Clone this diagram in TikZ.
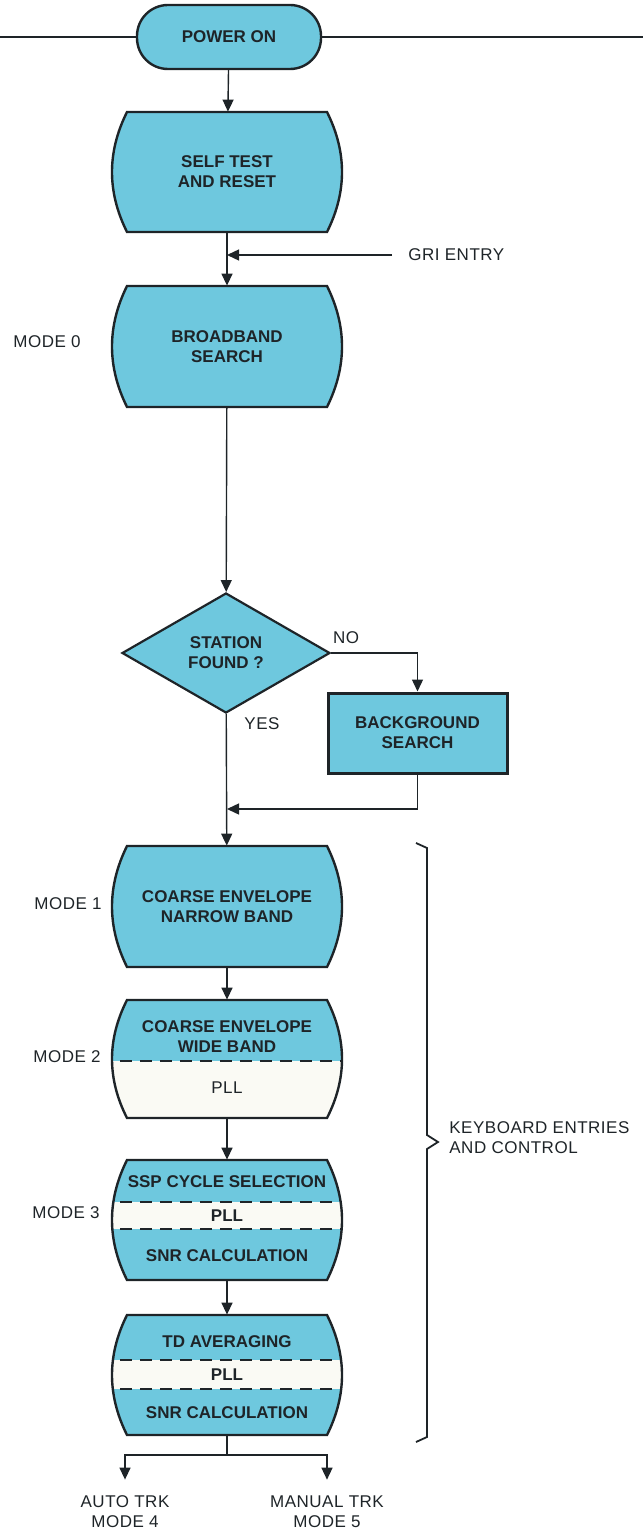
\documentclass[tikz,border=0pt]{standalone}
\usepackage{fontspec}
\setmainfont{Liberation Sans}
\newfontfamily\widefont[LetterSpace=3]{Liberation Sans}
\usetikzlibrary{arrows.meta,shapes.geometric}

\definecolor{boxblue}{RGB}{110,200,222}
\definecolor{bandwhite}{RGB}{250,250,244}
\definecolor{ink}{RGB}{30,36,40}

% barrel outline between a top and a bottom y
\newcommand{\barrelpath}[2]{(127,#1) -- (327,#1)
  .. controls (347,{#1+(#2-#1)/3}) and (347,{#2-(#2-#1)/3}) .. (327,#2)
  -- (127,#2)
  .. controls (107,{#2-(#2-#1)/3}) and (107,{#1+(#2-#1)/3}) .. (127,#1) -- cycle}

\tikzset{
  flow/.style={draw=ink, line width=0.7pt, -{Triangle[width=5.5pt,length=6pt]}},
  wire/.style={draw=ink, line width=0.7pt},
  outline/.style={draw=ink, line width=1.2pt},
  sep/.style={draw=ink, line width=0.9pt, dash pattern=on 6pt off 4pt},
  boxtext/.style={font=\bfseries\fontsize{8.5}{10}\selectfont, align=center, text=ink, inner sep=0pt},
  sidetext/.style={font=\widefont\fontsize{8.5}{10}\selectfont, align=center, text=ink, inner sep=0pt},
  frame/.style={minimum width=115pt, inner sep=0pt, boxtext},
}

\begin{document}
\begin{tikzpicture}[x=0.5pt,y=-0.5pt]
  \useasboundingbox (0,0) rectangle (643,1530);

  % power on and supply line
  \node[draw=ink, line width=1.2pt, fill=boxblue, rounded corners=15.5pt,
        minimum width=92pt, minimum height=32pt, boxtext] (pwr) at (229,37) {POWER ON};
  \coordinate (busL) at (0,37);
  \coordinate (busR) at (643,37);
  \draw[wire] (busL) -- (pwr.west);
  \draw[wire] (pwr.east) -- (busR);

  % self test
  \filldraw[outline, fill=boxblue] \barrelpath{112}{232};
  \node[frame, minimum height=60pt] (self) at (227,172) {SELF TEST\\AND RESET};

  % gri entry
  \node[sidetext, anchor=west] (gri) at (408,255) {GRI ENTRY};
  \coordinate (grijoin) at (227,255);

  % mode 0
  \filldraw[outline, fill=boxblue] \barrelpath{286}{407};
  \node[frame, minimum height=60.5pt] (bband) at (227,346.5) {BROADBAND\\SEARCH};
  \node[sidetext] (mode0) at (47,342) {MODE 0};

  % station test
  \node[draw=ink, line width=1.1pt, fill=boxblue, diamond, minimum width=104pt,
        minimum height=60pt, boxtext] (found) at (226,653) {STATION\\FOUND ?};
  \node[draw=ink, line width=1.5pt, fill=boxblue, minimum width=89.5pt,
        minimum height=40pt, boxtext] (bgsearch) at (417.5,733) {BACKGROUND\\SEARCH};
  \node[sidetext] (no) at (346,638) {NO};
  \node[sidetext] (yes) at (262,724) {YES};
  \coordinate (merge) at (227,809);

  % mode 1
  \filldraw[outline, fill=boxblue] \barrelpath{846}{967};
  \node[frame, minimum height=60.5pt] (cenb) at (227,906.5) {COARSE ENVELOPE\\NARROW BAND};
  \node[sidetext] (mode1) at (68,904) {MODE 1};

  % mode 2
  \begin{scope}
    \clip \barrelpath{1000}{1118};
    \fill[boxblue] (100,1000) rectangle (360,1061);
    \fill[bandwhite] (100,1061) rectangle (360,1118);
    \draw[sep] (100,1061) -- (360,1061);
  \end{scope}
  \draw[outline] \barrelpath{1000}{1118};
  \node[frame, minimum height=59pt] (cewb) at (227,1059) {};
  \node[boxtext] (cewbtop) at (227,1037) {COARSE ENVELOPE\\WIDE BAND};
  \node[sidetext] (cewbpll) at (227,1088) {PLL};
  \node[sidetext] (mode2) at (67,1057) {MODE 2};

  % mode 3
  \begin{scope}
    \clip \barrelpath{1160}{1280};
    \fill[boxblue] (100,1160) rectangle (360,1280);
    \fill[bandwhite] (100,1202) rectangle (360,1229);
    \draw[sep] (100,1202) -- (360,1202);
    \draw[sep] (100,1229) -- (360,1229);
  \end{scope}
  \draw[outline] \barrelpath{1160}{1280};
  \node[frame, minimum height=60pt] (ssp) at (227,1220) {};
  \node[boxtext] (ssptop) at (227,1182) {SSP CYCLE SELECTION};
  \node[boxtext] (ssppll) at (227,1216) {PLL};
  \node[boxtext] (sspsnr) at (227,1256) {SNR CALCULATION};
  \node[sidetext] (mode3) at (66,1213) {MODE 3};

  % tracking
  \begin{scope}
    \clip \barrelpath{1315}{1435};
    \fill[boxblue] (100,1315) rectangle (360,1435);
    \fill[bandwhite] (100,1360) rectangle (360,1389);
    \draw[sep] (100,1360) -- (360,1360);
    \draw[sep] (100,1389) -- (360,1389);
  \end{scope}
  \draw[outline] \barrelpath{1315}{1435};
  \node[frame, minimum height=60pt] (tdav) at (227,1375) {};
  \node[boxtext] (tdavtop) at (227,1342) {TD AVERAGING};
  \node[boxtext] (tdavpll) at (227,1375) {PLL};
  \node[boxtext] (tdavsnr) at (227,1413) {SNR CALCULATION};

  \node[sidetext] (auto) at (125,1512) {AUTO TRK\\MODE 4};
  \node[sidetext] (manual) at (327,1512) {MANUAL TRK\\MODE 5};
  \coordinate (split) at (227,1455);

  % keyboard brace
  \coordinate (brtop) at (416,843);
  \coordinate (brtip) at (438,1142);
  \coordinate (brbot) at (416,1442);
  \draw[wire, line width=0.9pt] (brtop) -- (427,848) -- (427,1135) -- (brtip)
    -- (427,1149) -- (427,1437) -- (brbot);
  \node[sidetext, anchor=west, align=left] (kbd) at (449,1138) {KEYBOARD ENTRIES\\AND CONTROL};

  \begin{scope}[flow]
    \draw (pwr) to (self);
    \draw (self) to (bband);
    \draw[shorten <=8pt] (gri.west) to (grijoin);
    \draw (bband) to (found);
    \draw (found.east) -| (bgsearch.north);
    \draw (bgsearch.south) |- (merge);
    \draw (found) to (cenb);
    \draw (cenb) to (cewb);
    \draw (cewb) to (ssp);
    \draw (ssp) to (tdav);
    \draw[-] (tdav) to (split);
    \draw[shorten >=8pt] (split) -| (auto.north);
    \draw[shorten >=8pt] (split) -| (manual.north);
  \end{scope}
\end{tikzpicture}
\end{document}
